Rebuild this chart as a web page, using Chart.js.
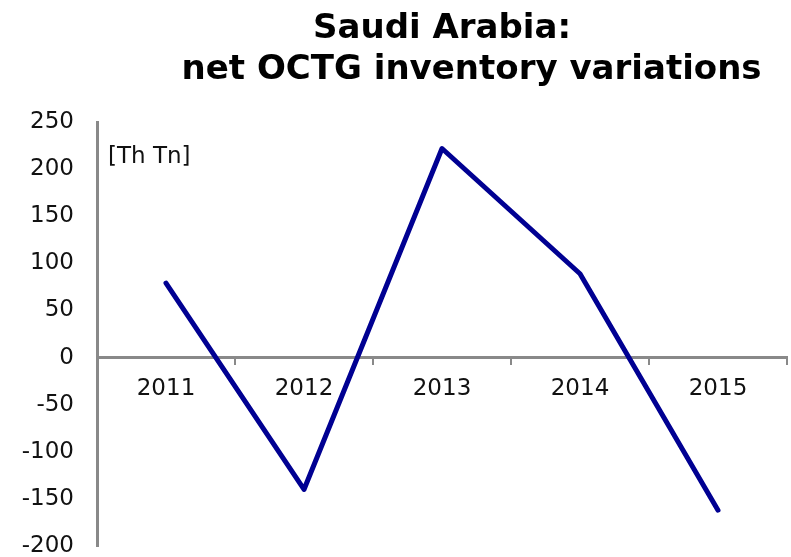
<!DOCTYPE html>
<html>
<head>
<meta charset="utf-8">
<title>Saudi Arabia: net OCTG inventory variations</title>
<script src="https://cdn.jsdelivr.net/npm/chart.js@4"></script>
<style>
    html, body { margin: 0; padding: 0; background: #fff; }
    #wrap { width: 791px; height: 557px; }
</style>
</head>
<body>
<div id="wrap"><canvas id="chart" width="791" height="557"></canvas></div>
<script>
// Chart data
const years = ['2011', '2012', '2013', '2014', '2015'];
const inventoryVariation = [79, -140, 222, 89, -162];
const yTicks = [250, 200, 150, 100, 50, 0, -50, -100, -150, -200];

const axisGrey = '#898989';
const lineBlue = '#000092';
const fontFamily = '"DejaVu Sans", Verdana, sans-serif';

// Unit label in the top-left corner of the plot
const unitLabel = {
    id: 'unitLabel',
    afterDraw(chart) {
        const ctx = chart.ctx;
        const area = chart.chartArea;
        ctx.save();
        ctx.font = `23px ${fontFamily}`;
        ctx.fillStyle = '#111';
        ctx.textAlign = 'left';
        ctx.textBaseline = 'middle';
        ctx.fillText('[Th Tn]', area.left + 11, area.top + 35);
        ctx.restore();
    }
};

new Chart(document.getElementById('chart'), {
    type: 'line',
    data: {
        labels: years,
        datasets: [{
            data: inventoryVariation,
            borderColor: lineBlue,
            borderWidth: 5,
            borderCapStyle: 'round',
            borderJoinStyle: 'round',
            pointRadius: 0,
            tension: 0,
            fill: false
        }]
    },
    options: {
        responsive: false,
        animation: false,
        layout: {
            padding: { left: 0, right: 4, top: 0, bottom: 11 }
        },
        plugins: {
            legend: { display: false },
            tooltip: { enabled: false },
            title: {
                display: true,
                fullSize: false,
                text: ['Saudi Arabia:', '     net OCTG inventory variations'],
                color: '#000',
                font: { family: fontFamily, size: 34, weight: 'bold', lineHeight: 1.2 },
                padding: { top: 9, bottom: 31.5 }
            }
        },
        scales: {
            x: {
                position: { y: 0 },
                offset: true,
                afterFit(scale) {
                    // axis sits on the zero line, so it takes no layout room
                    scale.height = 0;
                },
                grid: {
                    display: true,
                    offset: true,
                    drawOnChartArea: false,
                    drawTicks: true,
                    tickLength: 6,
                    color: axisGrey,
                    lineWidth: 2
                },
                border: { display: true, color: axisGrey, width: 3 },
                ticks: {
                    color: '#111',
                    font: { family: fontFamily, size: 23 },
                    padding: 12,
                    maxRotation: 0
                }
            },
            y: {
                min: -200,
                max: 250,
                afterBuildTicks(scale) {
                    scale.ticks = yTicks.map(v => ({ value: v }));
                },
                afterFit(scale) {
                    scale.width = 97;
                    scale.paddingTop = 0;
                    scale.paddingBottom = 0;
                },
                grid: { display: false, drawTicks: false },
                border: { display: true, color: axisGrey, width: 3 },
                ticks: {
                    color: '#111',
                    font: { family: fontFamily, size: 23 },
                    padding: 23
                }
            }
        }
    },
    plugins: [unitLabel]
});
</script>
</body>
</html>
